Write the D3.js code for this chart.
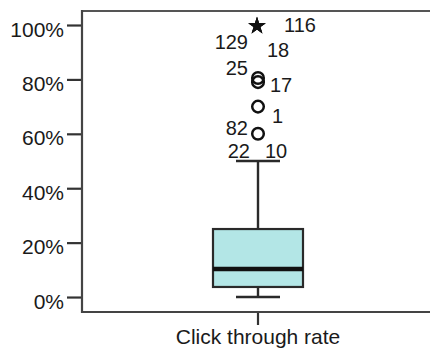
<!DOCTYPE html>
<html>
<head>
<meta charset="utf-8">
<script src="https://cdn.jsdelivr.net/npm/d3@7/dist/d3.min.js"></script>
<style>
  html, body { margin: 0; padding: 0; background: #fff; }
  svg { display: block; }
  text { font-family: "Liberation Sans", Arial, sans-serif; fill: #1a1a1a; }
</style>
</head>
<body>
<svg id="chart" width="430" height="351"></svg>
<script>
// Box-plot summary of the click-through rate
const categories = ["Click through rate"];
const boxMin = [0.0];
const boxQ1 = [0.037];
const boxMedian = [0.103];
const boxQ3 = [0.25];
const boxMax = [0.50];

// Flagged cases: case id, value, kind (extreme = star, outlier = circle, edge = label only)
const caseIds = ["116", "129", "18", "25", "17", "1", "82", "22", "10"];
const caseValues = [1.0, 1.0, 1.0, 0.805, 0.79, 0.70, 0.60, 0.50, 0.50];
const caseKinds = ["extreme", "extreme", "extreme", "outlier", "outlier", "outlier", "outlier", "edge", "edge"];

const yTicks = [0, 0.2, 0.4, 0.6, 0.8, 1.0];

const svg = d3.select("#chart");
const plot = { left: 82, right: 434, top: 11, bottom: 312 };

const y = d3.scaleLinear().domain([-0.055, 1.0515]).range([plot.bottom, plot.top]);
const x = d3.scaleBand().domain(categories).range([plot.left, plot.right]).padding(0.74);
const cx = x(categories[0]) + x.bandwidth() / 2;
const boxHalf = 45, capHalf = 22;

const ink = "#2a2a2a";

// Frame line along the top
svg.append("line").attr("x1", plot.left).attr("x2", plot.right)
  .attr("y1", plot.top).attr("y2", plot.top)
  .attr("stroke", "#555").attr("stroke-width", 2);

// Y axis
const yAxis = d3.axisLeft(y).tickValues(yTicks).tickFormat(d3.format(".0%"))
  .tickSize(15).tickPadding(3);
const gy = svg.append("g").attr("transform", `translate(${plot.left},0)`).call(yAxis);
gy.select(".domain").remove();
gy.append("line").attr("x1", 0).attr("x2", 0).attr("y1", plot.top - 1).attr("y2", plot.bottom + 1)
  .attr("stroke", "#444").attr("stroke-width", 2.2);
gy.selectAll(".tick line").attr("stroke", "#333").attr("stroke-width", 2.2);
gy.selectAll(".tick text").attr("font-size", 21).attr("dy", null).attr("y", 11)
  .style("font-family", "'Liberation Sans', Arial, sans-serif").attr("fill", "#1a1a1a");

// X axis
const xAxis = d3.axisBottom(x).tickSize(13).tickPadding(6);
const gx = svg.append("g").attr("transform", `translate(0,${plot.bottom})`).call(xAxis);
gx.select(".domain").remove();
gx.append("line").attr("x1", plot.left).attr("x2", plot.right).attr("y1", 0).attr("y2", 0)
  .attr("stroke", "#444").attr("stroke-width", 2.2);
gx.selectAll(".tick line").attr("stroke", "#333").attr("stroke-width", 2.2);
gx.selectAll(".tick text").attr("font-size", 21).attr("dy", null).attr("y", 32)
  .style("font-family", "'Liberation Sans', Arial, sans-serif").attr("fill", "#1a1a1a");

// Whiskers
const gb = svg.append("g");
gb.append("line").attr("x1", cx).attr("x2", cx).attr("y1", y(boxQ3[0])).attr("y2", y(boxMax[0]))
  .attr("stroke", ink).attr("stroke-width", 2.4);
gb.append("line").attr("x1", cx).attr("x2", cx).attr("y1", y(boxQ1[0])).attr("y2", y(boxMin[0]))
  .attr("stroke", ink).attr("stroke-width", 2.4);
[boxMax[0], boxMin[0]].forEach(v => {
  gb.append("line").attr("x1", cx - capHalf).attr("x2", cx + capHalf).attr("y1", y(v)).attr("y2", y(v))
    .attr("stroke", ink).attr("stroke-width", 2.4);
});

// Box
gb.append("rect").attr("x", cx - boxHalf).attr("width", boxHalf * 2)
  .attr("y", y(boxQ3[0])).attr("height", y(boxQ1[0]) - y(boxQ3[0]))
  .attr("fill", "#b3e6e6").attr("stroke", ink).attr("stroke-width", 2.2);
gb.append("line").attr("x1", cx - boxHalf).attr("x2", cx + boxHalf)
  .attr("y1", y(boxMedian[0])).attr("y2", y(boxMedian[0]))
  .attr("stroke", "#111").attr("stroke-width", 4.5);

// Case label placement: [dx, dy, anchor] relative to the marker
const labelPlace = {
  "116": [26, 7, "start"], "129": [-10, 24, "end"], "18": [9, 32, "start"],
  "25": [-10, -3, "end"], "17": [12, 10, "start"], "1": [14, 16, "start"],
  "82": [-10, 1, "end"], "22": [-8, -3, "end"], "10": [7, -3, "start"]
};

const cases = caseIds.map((id, i) => ({ id, value: caseValues[i], kind: caseKinds[i] }));
const star = d3.symbol().type(d3.symbolStar).size(95);
const gc = svg.append("g");
cases.forEach(c => {
  const py = y(c.value);
  if (c.kind === "extreme") {
    gc.append("path").attr("d", star).attr("transform", `translate(${cx - 1},${py + 1})`).attr("fill", "#111");
  } else if (c.kind === "outlier") {
    gc.append("circle").attr("cx", cx).attr("cy", py).attr("r", 5.8)
      .attr("fill", "none").attr("stroke", "#111").attr("stroke-width", 2.5);
  }
  const p = labelPlace[c.id];
  gc.append("text").attr("x", cx + p[0]).attr("y", py + p[1])
    .attr("text-anchor", p[2]).attr("font-size", 20).text(c.id);
});
</script>
</body>
</html>
